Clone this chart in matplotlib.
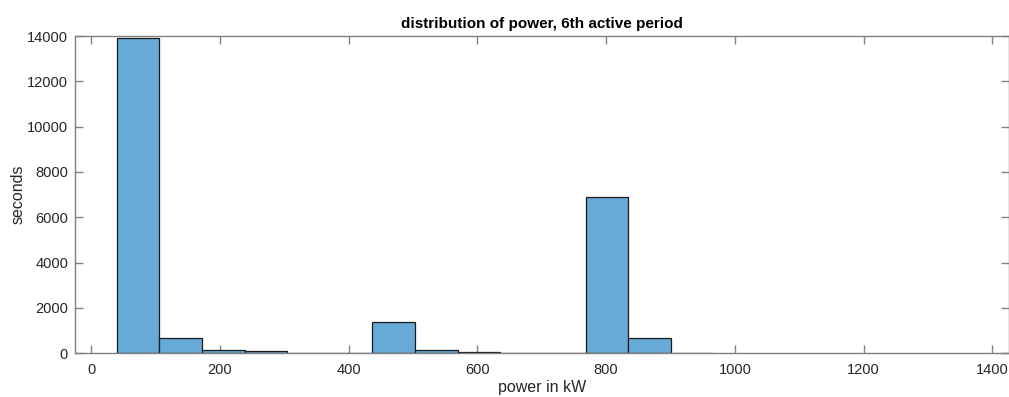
import matplotlib
matplotlib.use("Agg")
import matplotlib.pyplot as plt
import numpy as np

# Histogram of power draw during the 6th active period
bin_start = 39.9          # kW, left edge of the first bin
bin_width = 66.2          # kW
counts = [13930, 680, 130, 80, 20, 15, 1370, 130, 70, 20, 15, 6880, 660, 20]

x_ticks = [0, 200, 400, 600, 800, 1000, 1200, 1400]
y_ticks = [0, 2000, 4000, 6000, 8000, 10000, 12000, 14000]

plt.rcParams["font.family"] = ["Liberation Sans", "DejaVu Sans"]

W, H = 1009, 397
fig = plt.figure(figsize=(W / 100, H / 100), dpi=100)
ax = fig.add_axes([75 / W, (H - 353.3) / H, 933.5 / W, 317.3 / H])

lefts = bin_start + bin_width * np.arange(len(counts))
ax.bar(lefts, counts, width=bin_width, align="edge",
       color="#66aad7", edgecolor="#1a1a1a", linewidth=0.9, zorder=2)

ax.set_xlim(-25, 1425)
ax.set_ylim(0, 14000)
ax.set_xticks(x_ticks)
ax.set_yticks(y_ticks)

axis_col = "#808080"
text_col = "#262626"
for sp in ax.spines.values():
    sp.set_color(axis_col)
    sp.set_linewidth(1.0)
ax.tick_params(direction="in", length=5.8, width=1.0, color=axis_col,
               top=True, right=True, labelsize=10.5, labelcolor=text_col)
ax.tick_params(axis="x", pad=7)
ax.tick_params(axis="y", pad=5)

ax.set_title("distribution of power, 6th active period", fontsize=11,
             fontweight="bold", color="#000000", pad=6)
ax.set_xlabel("power in kW", fontsize=11.5, color=text_col, labelpad=2.5)
ax.set_ylabel("seconds", fontsize=11.5, color=text_col, labelpad=1)

fig.savefig("out.png", dpi=100)
